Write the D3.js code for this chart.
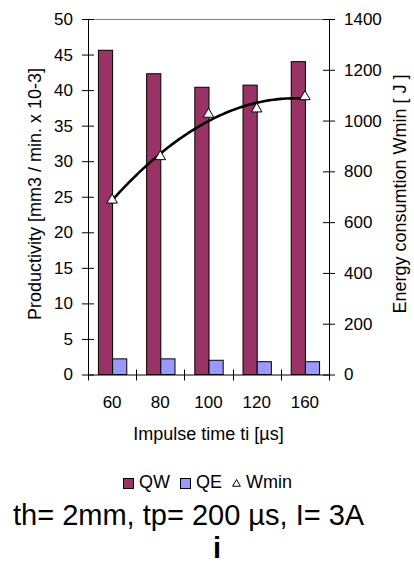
<!DOCTYPE html>
<html>
<head>
<meta charset="utf-8">
<script src="https://cdn.jsdelivr.net/npm/d3@7"></script>
<style>
  html, body { margin: 0; padding: 0; background: #fff; }
  svg { display: block; font-family: "Liberation Sans", Arial, sans-serif; }
</style>
</head>
<body>
<div id="chart"></div>
<script>
// Impulse time categories and the three series
const categories = ['60', '80', '100', '120', '160'];
const qwValues   = [45.6, 42.3, 40.4, 40.7, 44.0];
const qeValues   = [2.2, 2.2, 2.0, 1.8, 1.8];
const wminValues = [687, 858, 1025, 1046, 1094];

const leftTicks  = d3.range(0, 51, 5);
const rightTicks = d3.range(0, 1401, 200);

const seriesNames  = ['QW', 'QE'];
const seriesColors = { QW: '#993366', QE: '#9999ff' };

const W = 414, H = 563;
const PLOT = { left: 88, right: 329, top: 19, bottom: 374.5 };

const svg = d3.select('#chart').append('svg')
  .attr('width', W).attr('height', H);

const x = d3.scaleBand().domain(categories).range([PLOT.left, PLOT.right]).paddingInner(0).paddingOuter(0);
const xSeries = d3.scaleBand().domain(seriesNames).range([0, x.bandwidth()]).paddingInner(0).paddingOuter(0.7);
const yLeft  = d3.scaleLinear().domain([0, 50]).range([PLOT.bottom, PLOT.top]);
const yRight = d3.scaleLinear().domain([0, 1400]).range([PLOT.bottom, PLOT.top]);

// plot area border (top)
svg.append('line')
  .attr('x1', PLOT.left).attr('x2', PLOT.right)
  .attr('y1', PLOT.top + 0.5).attr('y2', PLOT.top + 0.5)
  .attr('stroke', '#808080');

// bars
const rows = categories.map((c, i) => ({ cat: c, QW: qwValues[i], QE: qeValues[i] }));
const groups = svg.append('g').selectAll('g')
  .data(rows).join('g')
  .attr('transform', d => `translate(${x(d.cat)},0)`);

groups.selectAll('rect')
  .data(d => seriesNames.map(s => ({ s, v: d[s] })))
  .join('rect')
    .attr('x', d => xSeries(d.s) + 0.5)
    .attr('y', d => yLeft(d.v))
    .attr('width', xSeries.bandwidth())
    .attr('height', d => yLeft(0) - yLeft(d.v))
    .attr('fill', d => seriesColors[d.s])
    .attr('stroke', '#000')
    .attr('stroke-width', 1);

function styleAxis(ax) {
  ax.attr('font-family', null).attr('font-size', 17);
  ax.selectAll('text').attr('fill', '#000');
  ax.selectAll('line, path').attr('stroke', '#000');
}

// left axis
svg.append('g')
  .attr('transform', `translate(${PLOT.left},0)`)
  .call(d3.axisLeft(yLeft).tickValues(leftTicks).tickFormat(d3.format('d')).tickSize(6).tickSizeOuter(0).tickPadding(9))
  .call(ax => ax.selectAll('.tick line').attr('x1', 6))
  .call(styleAxis);

// right axis
svg.append('g')
  .attr('transform', `translate(${PLOT.right},0)`)
  .call(d3.axisRight(yRight).tickValues(rightTicks).tickFormat(d3.format('d')).tickSize(6).tickSizeOuter(0).tickPadding(9))
  .call(ax => ax.selectAll('.tick line').attr('x1', -6))
  .call(styleAxis);

// x axis: labels at category centres, ticks on category boundaries
svg.append('g')
  .attr('transform', `translate(0,${PLOT.bottom})`)
  .call(d3.axisBottom(x).tickSize(0).tickSizeOuter(0).tickPadding(21))
  .call(styleAxis);

const bounds = categories.map(c => x(c)).concat([PLOT.right]);
svg.append('g').selectAll('line')
  .data(bounds).join('line')
    .attr('x1', d => Math.round(d) + 0.5).attr('x2', d => Math.round(d) + 0.5)
    .attr('y1', PLOT.bottom - 5).attr('y2', PLOT.bottom + 6)
    .attr('stroke', '#000');

// 2nd order polynomial trend line of Wmin (least squares)
function polyfit2(ys) {
  const xs = ys.map((_, i) => i);
  let s = [0, 0, 0, 0, 0], t = [0, 0, 0];
  xs.forEach((xv, i) => {
    for (let k = 0; k < 5; k++) s[k] += Math.pow(xv, k);
    for (let k = 0; k < 3; k++) t[k] += Math.pow(xv, k) * ys[i];
  });
  // solve 3x3 normal equations
  const A = [[s[0], s[1], s[2], t[0]], [s[1], s[2], s[3], t[1]], [s[2], s[3], s[4], t[2]]];
  for (let i = 0; i < 3; i++) {
    for (let j = i + 1; j < 3; j++) {
      const f = A[j][i] / A[i][i];
      for (let k = i; k < 4; k++) A[j][k] -= f * A[i][k];
    }
  }
  const c = [0, 0, 0];
  for (let i = 2; i >= 0; i--) {
    let sum = A[i][3];
    for (let k = i + 1; k < 3; k++) sum -= A[i][k] * c[k];
    c[i] = sum / A[i][i];
  }
  return xv => c[0] + c[1] * xv + c[2] * xv * xv;
}

const trend = polyfit2(wminValues);
const step = x.step();
const x0 = x(categories[0]) + x.bandwidth() / 2;
const trendPts = d3.range(0, wminValues.length - 1 + 1e-9, 0.05).map(t => [x0 + t * step, yRight(trend(t))]);

svg.append('path')
  .attr('d', d3.line()(trendPts))
  .attr('fill', 'none')
  .attr('stroke', '#000')
  .attr('stroke-width', 2.6)
  .attr('stroke-linejoin', 'round');

// Wmin markers
svg.append('g').selectAll('path')
  .data(wminValues).join('path')
    .attr('transform', (d, i) => `translate(${x(categories[i]) + x.bandwidth() / 2},${yRight(d)})`)
    .attr('d', d3.symbol(d3.symbolTriangle, 48))
    .attr('fill', '#fff')
    .attr('stroke', '#000')
    .attr('stroke-width', 1);

// axis titles
svg.append('text')
  .attr('transform', 'translate(40.5,194) rotate(-90)')
  .attr('text-anchor', 'middle')
  .attr('font-size', 18)
  .text('Productivity [mm3 / min. x 10-3]');

svg.append('text')
  .attr('transform', 'translate(406,194) rotate(-90)')
  .attr('text-anchor', 'middle')
  .attr('font-size', 18)
  .text('Energy consumtion Wmin [ J ]');

svg.append('text')
  .attr('x', (PLOT.left + PLOT.right) / 2).attr('y', 440)
  .attr('text-anchor', 'middle')
  .attr('font-size', 18)
  .text('Impulse time ti [µs]');

// legend
const legendItems = [
  { name: 'QW', type: 'rect', color: seriesColors.QW },
  { name: 'QE', type: 'rect', color: seriesColors.QE },
  { name: 'Wmin', type: 'tri' }
];
const legend = svg.append('g');
let lx = 0;
legendItems.forEach(item => {
  const g = legend.append('g').attr('transform', `translate(${lx},0)`);
  if (item.type === 'rect') {
    g.append('rect').attr('x', 0.5).attr('y', -9.5).attr('width', 10).attr('height', 10)
      .attr('fill', item.color).attr('stroke', '#000');
  } else {
    g.append('path').attr('transform', 'translate(4.5,-4)')
      .attr('d', d3.symbol(d3.symbolTriangle, 26)).attr('fill', '#fff').attr('stroke', '#000');
  }
  const label = g.append('text').attr('x', item.type === 'rect' ? 16 : 14).attr('y', 0)
    .attr('font-size', 18).text(item.name);
  lx += (item.type === 'rect' ? 16 : 14) + label.node().getComputedTextLength() + 10;
});
legend.attr('transform', `translate(${Math.round(208 - (lx - 10) / 2)},488)`);

// subtitle
svg.append('text')
  .attr('x', 13).attr('y', 525)
  .attr('font-size', 29)
  .text('th= 2mm, tp= 200 µs, I= 3A');

svg.append('text')
  .attr('x', 217).attr('y', 558)
  .attr('text-anchor', 'middle')
  .attr('font-size', 29)
  .attr('font-weight', 'bold')
  .text('i');
</script>
</body>
</html>
